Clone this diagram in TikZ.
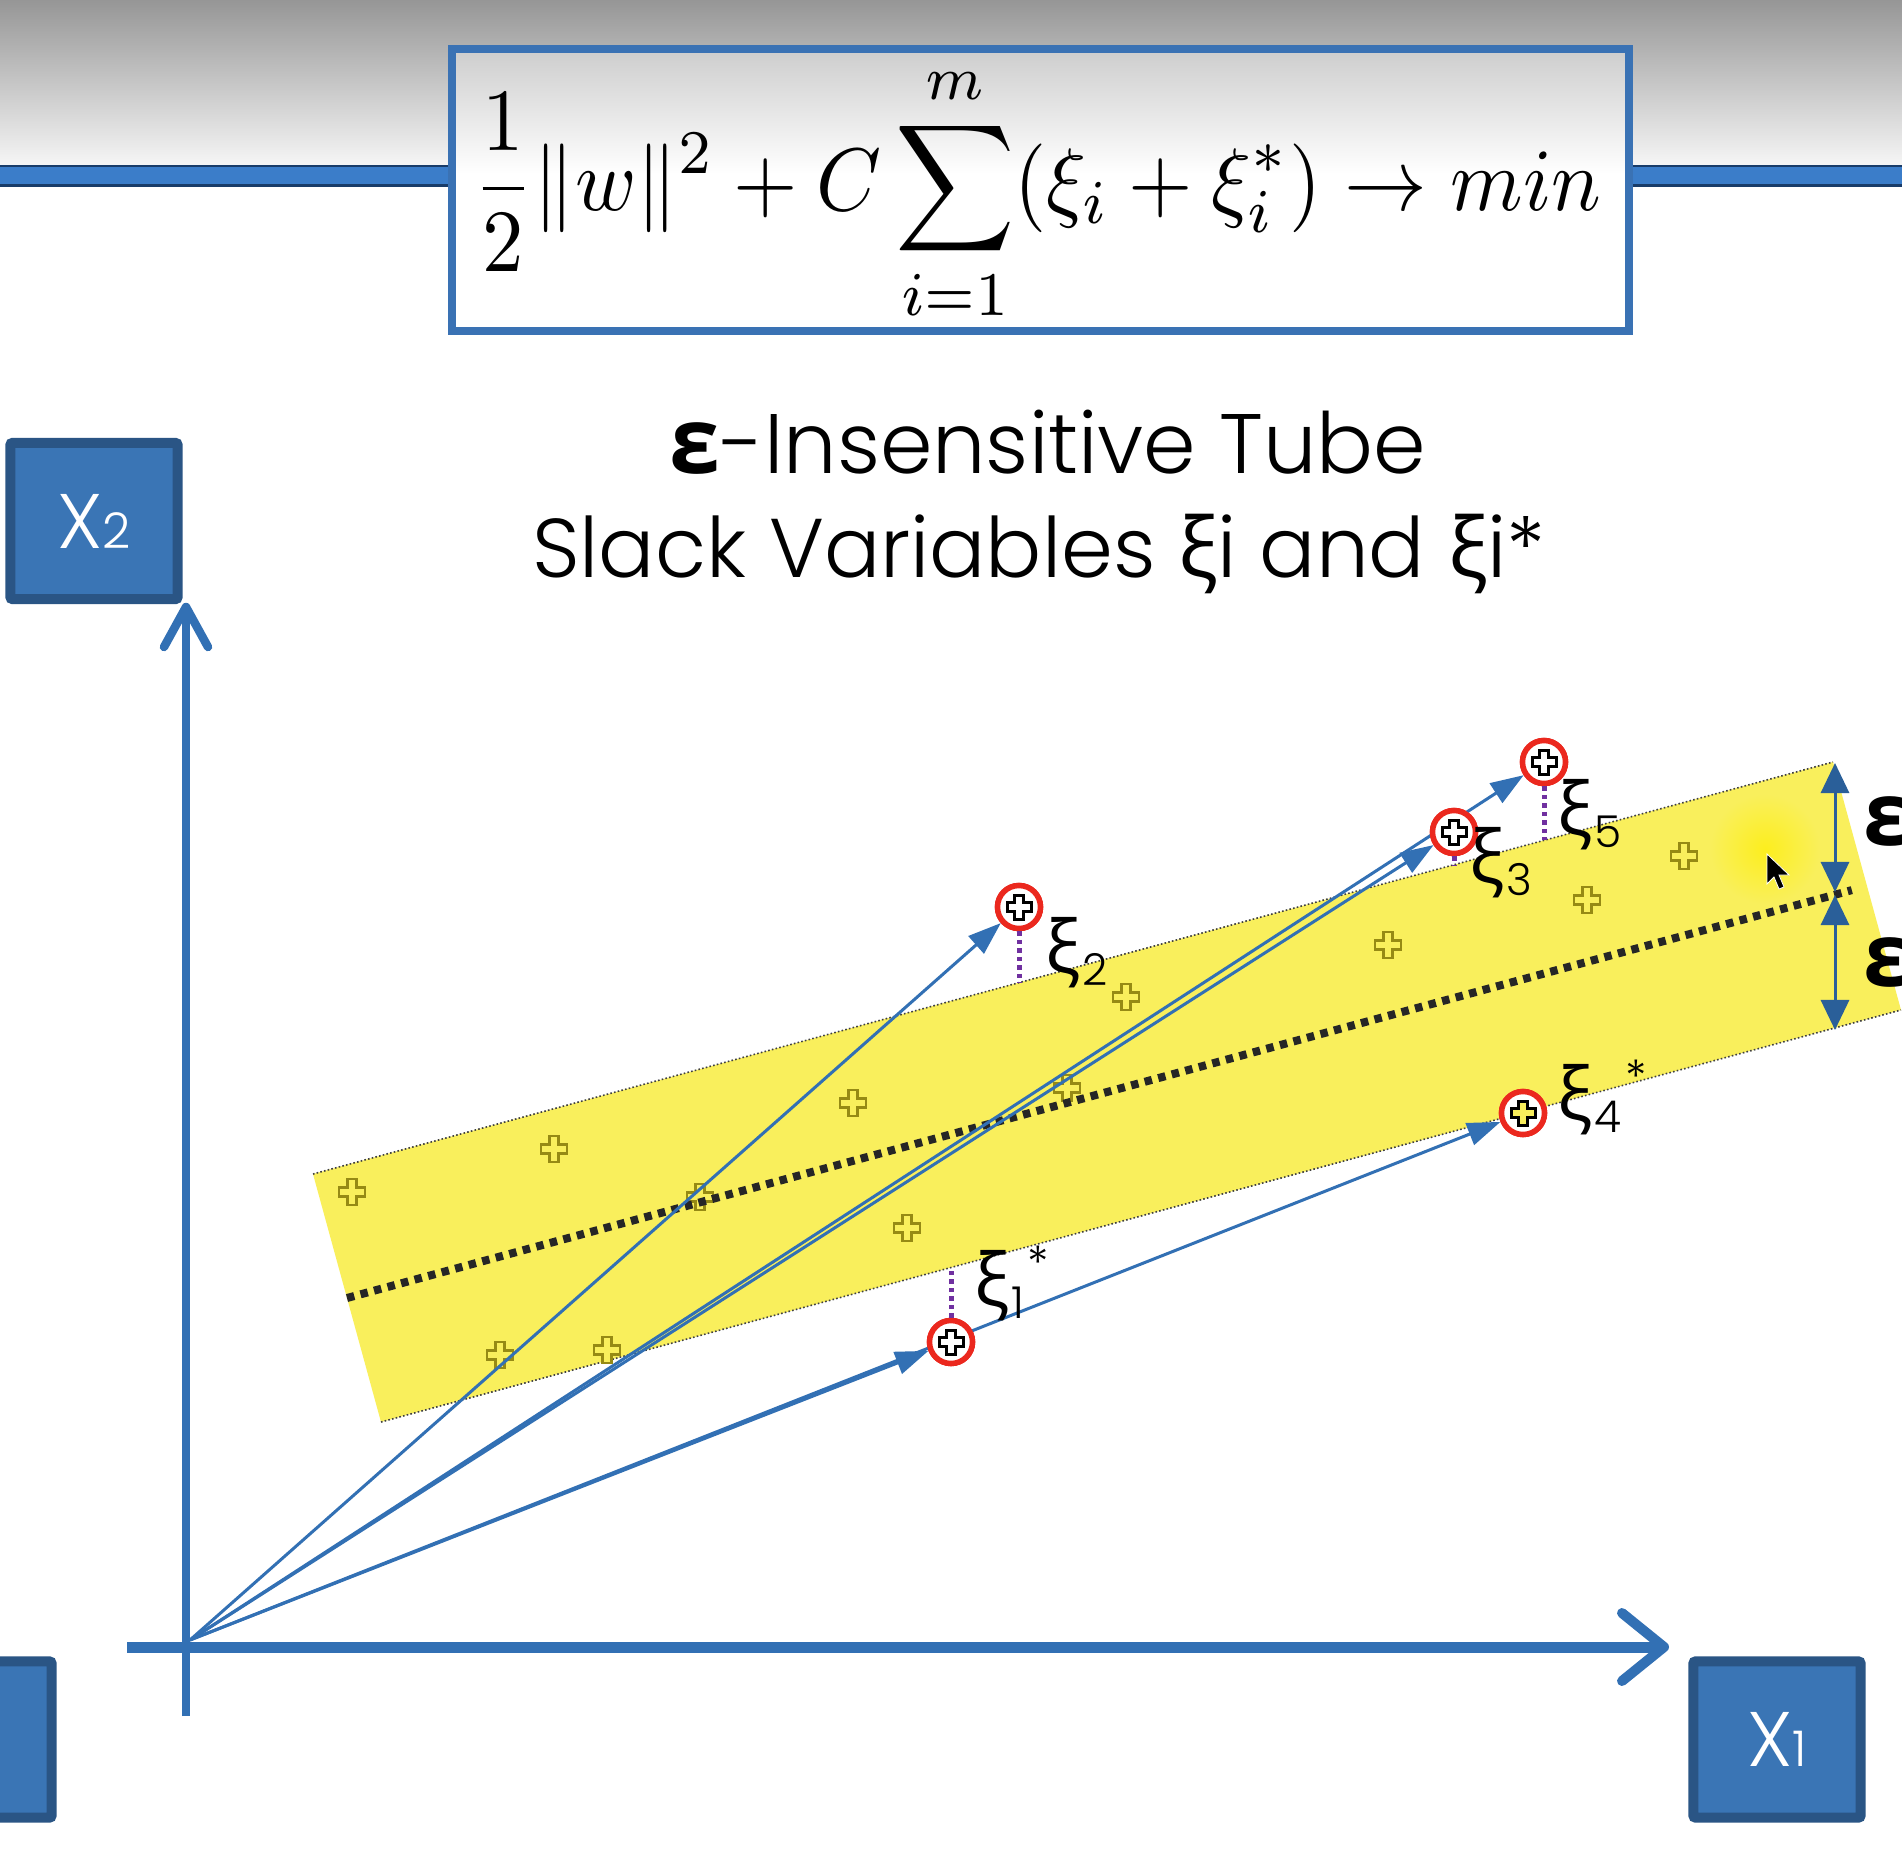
\documentclass[tikz,border=0pt]{standalone}
\usepackage[no-math]{fontspec}
\usepackage{amsmath}
\usepackage{graphicx}
\setmainfont{Poppins}[UprightFont={* Light}]
\newfontfamily\grk{Open Sans}
\usetikzlibrary{arrows.meta,calc}
\definecolor{axblue}{RGB}{50,112,180}
\definecolor{boxfill}{RGB}{58,117,181}
\definecolor{boxedge}{RGB}{42,85,133}
\definecolor{tubey}{RGB}{249,239,92}
\definecolor{olivec}{RGB}{150,138,20}
\definecolor{ptred}{RGB}{235,40,30}
\definecolor{slackp}{RGB}{112,48,160}
\definecolor{hdrblue}{RGB}{59,125,201}
\definecolor{hdrdark}{RGB}{25,60,105}
\definecolor{fborder}{RGB}{58,114,180}
\newcommand{\xiLab}[2]{{\grk\fontsize{21pt}{21pt}\selectfont\raisebox{3.2pt}{ξ}}\kern0.5pt{\fontsize{12.5pt}{12.5pt}\selectfont #1}#2}
\newcommand{\stLab}{\raisebox{11pt}{\fontsize{13pt}{13pt}\selectfont *}}
\tikzset{
  vec/.style={draw=axblue, line width=0.03cm, -{Triangle[length=0.33cm,width=0.23cm]}},
  epsarrow/.style={draw=axblue!85!black, line width=0.03cm, {Triangle[length=0.3cm,width=0.28cm]}-{Triangle[length=0.3cm,width=0.28cm]}},
  axisline/.style={draw=axblue, line cap=butt},
  chev/.style={draw=axblue, line cap=round, line join=round},
  xbox/.style={rectangle, fill=boxfill, draw=boxedge, line width=0.1cm, rounded corners=0.02cm, minimum width=1.67cm, minimum height=1.56cm, inner sep=0, text=white, font=\fontsize{22pt}{22pt}\selectfont},
  ptc/.style={circle, draw=ptred, fill=white, line width=0.055cm, minimum size=0.43cm, inner sep=0},
  slack/.style={draw=slackp, line width=0.05cm, dash pattern=on 0.045cm off 0.04cm},
  edgedot/.style={draw=black!75, line width=0.016cm, dash pattern=on 0.016cm off 0.022cm},
  midline/.style={draw=black!85, line width=0.08cm, dash pattern=on 0.075cm off 0.065cm},
  lab/.style={anchor=base west, inner sep=0, text=black},
  pics/ycross/.style={code={\path[draw=olivec, fill=tubey, line width=0.022cm]
    (-4.5,-13) -- (4.5,-13) -- (4.5,-4.5) -- (13,-4.5) -- (13,4.5) -- (4.5,4.5) -- (4.5,13) -- (-4.5,13) -- (-4.5,4.5) -- (-13,4.5) -- (-13,-4.5) -- (-4.5,-4.5) -- cycle;}},
  pics/bcross/.style={code={\path[draw=black, fill=white, line width=0.03cm]
    (-4.5,-12) -- (4.5,-12) -- (4.5,-4.5) -- (12,-4.5) -- (12,4.5) -- (4.5,4.5) -- (4.5,12) -- (-4.5,12) -- (-4.5,4.5) -- (-12,4.5) -- (-12,-4.5) -- (-4.5,-4.5) -- cycle;}},
  pics/bycross/.style={code={\path[draw=black, fill=tubey, line width=0.03cm]
    (-4.5,-12) -- (4.5,-12) -- (4.5,-4.5) -- (12,-4.5) -- (12,4.5) -- (4.5,4.5) -- (4.5,12) -- (-4.5,12) -- (-4.5,4.5) -- (-12,4.5) -- (-12,-4.5) -- (-4.5,-4.5) -- cycle;}}
}
\begin{document}
\begin{tikzpicture}[x=0.01cm, y=-0.01cm]
\useasboundingbox (0,0) rectangle (1902,1860);
\clip (0,0) rectangle (1902,1860);
\fill[white] (0,0) rectangle (1902,1860);
% header gradient
\shade[top color={rgb,255:red,150;green,150;blue,150}, bottom color={rgb,255:red,246;green,246;blue,246}] (0,0) rectangle (1902,166);
% blue header line
\fill[hdrblue] (0,165) rectangle (1902,186);
\draw[hdrdark, line width=0.02cm] (0,166) -- (1902,166);
\draw[hdrdark, line width=0.03cm] (0,185) -- (1902,185);
% formula box
\node[fill=white, minimum width=11.75cm, minimum height=2.80cm, inner sep=0] (fbox) at (1040.5,190) {};
\shade[top color={rgb,255:red,205;green,205;blue,205}, bottom color=white] (fbox.north west) rectangle ($(fbox.north east)+(0,125)$);
\draw[fborder, line width=0.08cm] (fbox.north west) rectangle (fbox.south east);
\node[inner sep=0] (formula) at (1037,194) {\resizebox*{11.28cm}{2.6cm}{$\displaystyle \frac{1}{2}\lVert w\rVert^{2}+C\sum_{i=1}^{m}(\xi_i+\xi_i^{*})\rightarrow min$}};
% titles
\node[anchor=base, inner sep=0] (t1) at (1048,473) {\fontsize{24pt}{29pt}\selectfont{\grk\bfseries\fontsize{26pt}{29pt}\selectfont ε}-Insensitive Tube};
\node[anchor=base, inner sep=0] (t2) at (1039,577) {\fontsize{23.7pt}{29pt}\selectfont Slack Variables {\grk ξ}i and {\grk ξ}i*};
% axis label boxes
\node[xbox] (x2box) at (94,521) {X{\fontsize{14pt}{14pt}\selectfont 2}};
\node[xbox] (x1box) at (1777,1739.5) {X{\fontsize{14pt}{14pt}\selectfont 1}};
\node[xbox] (x0box) at (-32,1739.5) {};
% tube
\coordinate (TL) at (313,1174);
\coordinate (TR) at (1833,762);
\coordinate (BR) at (1901,1010);
\coordinate (BL) at (381,1422);
\coordinate (ML) at ($(TL)!0.5!(BL)$);
\coordinate (MR) at ($(TR)!0.5!(BR)$);
\fill[tubey] (TL) -- (TR) -- (BR) -- (BL) -- cycle;
\shade[inner color={rgb,255:red,252;green,238;blue,30}, outer color=tubey] (1765,849) circle (55);
\draw[edgedot] (TL) -- (TR);
\draw[edgedot] (BL) -- (BR);
% data points inside tube
\foreach \px/\py in {352/1192, 554/1149, 700/1197, 853/1103, 907/1228, 1067/1088, 1126/997, 1388/945, 1587/900, 1684/856, 500/1355, 607/1350}
  \pic at (\px,\py) {ycross};
% regression line
\draw[midline] (ML) -- ($(ML)!0.99!(MR)$);
% epsilon arrows
\coordinate (et) at (1835,763);
\coordinate (em1) at (1835,892);
\coordinate (em2) at (1835,895);
\coordinate (eb) at (1835,1030);
\draw[epsarrow] (et) -- (em1);
\draw[epsarrow] (em2) -- (eb);
\node[lab] (eps1) at (1863,845) {\grk\bfseries\fontsize{25pt}{25pt}\selectfont ε};
\node[lab] (eps2) at (1863,986) {\grk\bfseries\fontsize{25pt}{25pt}\selectfont ε};
% origin
\coordinate (O) at (190,1640);
% circled points
\node[ptc] (p1) at (951,1342) {};
\node[ptc] (p2) at (1019,907) {};
\node[ptc] (p3) at (1454,832) {};
\node[ptc] (p4) at (1523,1113) {};
\node[ptc] (p5) at (1544,762) {};
% vectors
\draw[vec] (O) -- (p2);
\draw[vec] (O) -- (p5);
\draw[vec] (O) -- (p3);
\draw[vec] (O) -- (p1);
\draw[vec] (O) -- (p4);
% redraw circles over lines
\node[ptc] at (p1) {};
\node[ptc] at (p2) {};
\node[ptc] at (p3) {};
\node[ptc] at (p4) {};
\node[ptc] at (p5) {};
\pic at (p1) {bcross};
\pic at (p2) {bcross};
\pic at (p3) {bcross};
\pic at (p4) {bycross};
\pic at (p5) {bcross};
% slack lines
\coordinate (e2) at (1019,983);
\coordinate (e5) at (1544,840);
\coordinate (e3) at (1454,866);
\coordinate (e1) at (951,1268);
\draw[slack] (p2.south) -- (e2);
\draw[slack] (p5.south) -- (e5);
\draw[slack] (p3.south) -- (e3);
\draw[slack] (p1.north) -- (e1);
% labels
\node[lab] (l2) at (1045,985) {\xiLab{2}{}};
\node[lab] (l5) at (1557,847) {\xiLab{5}{}};
\node[lab] (l3) at (1469,895) {\xiLab{3}{}};
\node[lab] (l4) at (1557,1132) {\xiLab{4}{\kern1pt\stLab}};
\node[lab] (l1) at (974,1318) {\xiLab{1}{\kern1pt\stLab}};
% axes
\coordinate (ybot) at (186,1716);
\coordinate (ytop) at (186,607);
\coordinate (xleft) at (127,1647);
\coordinate (xright) at (1664,1647);
\draw[axisline, line width=0.085cm] (ybot) -- (ytop);
\draw[chev, line width=0.085cm] ($(ytop)+(-22,40)$) -- (ytop) -- ($(ytop)+(22,40)$);
\draw[axisline, line width=0.11cm] (xleft) -- (xright);
\draw[chev, line width=0.1cm] ($(xright)+(-42,-34)$) -- (xright) -- ($(xright)+(-42,34)$);
% mouse cursor
\path[fill=black, draw=white, line width=0.008cm] (1767,854) -- (1767,884) -- (1774,877) -- (1779,889) -- (1784,887) -- (1779,875) -- (1789,875) -- cycle;
\end{tikzpicture}
\end{document}
